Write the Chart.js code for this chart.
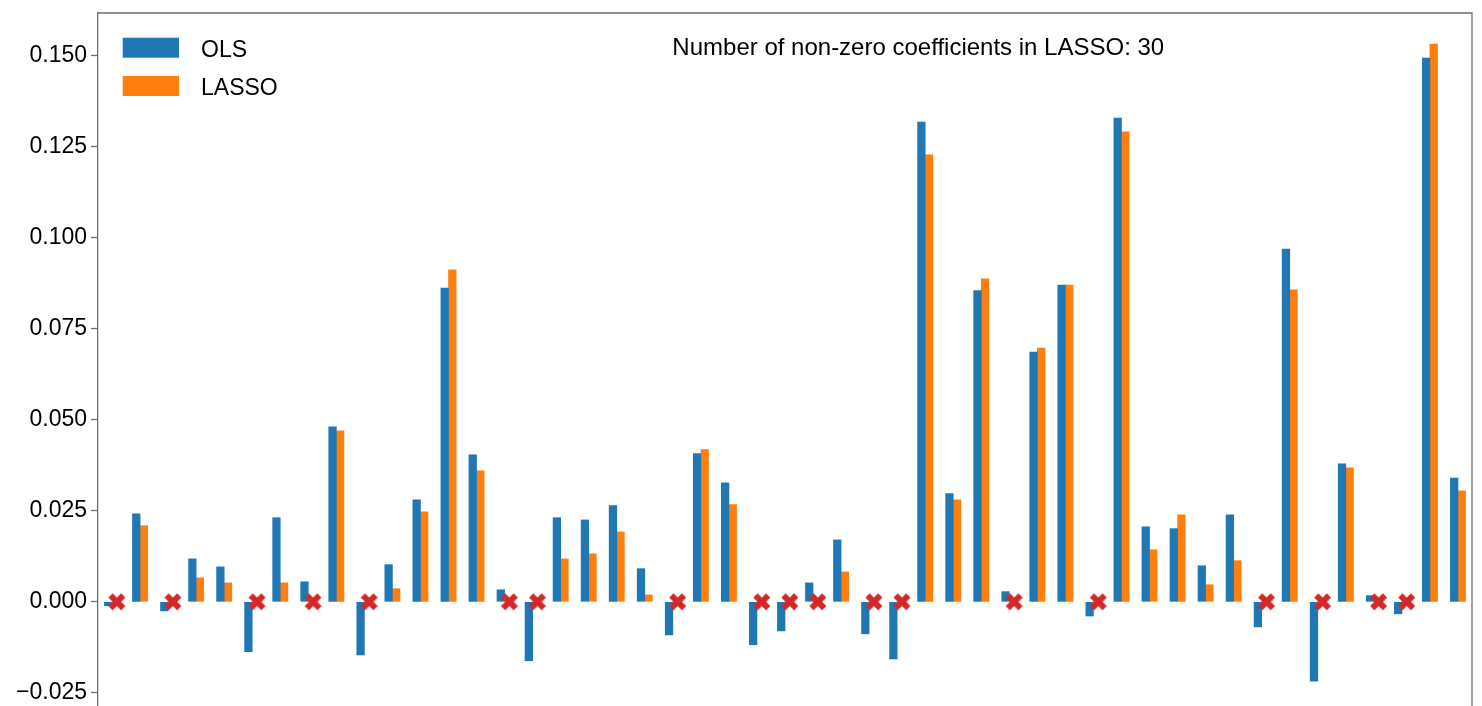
<!DOCTYPE html>
<html>
<head>
<meta charset="utf-8">
<script src="https://cdn.jsdelivr.net/npm/chart.js@4.4.1/dist/chart.umd.min.js"></script>
<style>
  html, body { margin: 0; padding: 0; background: #fff; overflow: hidden; }
</style>
</head>
<body>
<canvas id="coefChart" width="1482" height="706"></canvas>
<script>
var features = [0, 1, 2, 3, 4, 5, 6, 7, 8, 9, 10, 11, 12, 13, 14, 15, 16, 17, 18, 19, 20, 21, 22, 23, 24,
    25, 26, 27, 28, 29, 30, 31, 32, 33, 34, 35, 36, 37, 38, 39, 40, 41, 42, 43, 44, 45, 46, 47, 48]

var olsCoef = [-0.0011, 0.0242, -0.0025, 0.0118, 0.0096, -0.0137, 0.0231, 0.0055, 0.0481, -0.0146,
    0.0102, 0.0280, 0.0862, 0.0404, 0.0033, -0.0162, 0.0231, 0.0225, 0.0264, 0.0091,
    -0.0091, 0.0407, 0.0327, -0.0118, -0.0080, 0.0052, 0.0170, -0.0088, -0.0157, 0.1318,
    0.0297, 0.0855, 0.0028, 0.0686, 0.0870, -0.0039, 0.1329, 0.0206, 0.0201, 0.0099,
    0.0239, -0.0069, 0.0969, -0.0218, 0.0379, 0.0017, -0.0033, 0.1494, 0.0340]

var lassoCoef = [0, 0.0209, 0, 0.0066, 0.0052, 0, 0.0052, 0, 0.0470, 0,
    0.0036, 0.0247, 0.0912, 0.0360, 0, 0, 0.0118, 0.0132, 0.0192, 0.0019,
    0, 0.0418, 0.0267, 0, 0, 0, 0.0082, 0, 0, 0.1228,
    0.0280, 0.0887, 0, 0.0697, 0.0870, 0, 0.1291, 0.0143, 0.0239, 0.0047,
    0.0113, 0, 0.0857, 0, 0.0368, 0, 0, 0.1532, 0.0305]

var yTicks = [-0.025, 0, 0.025, 0.05, 0.075, 0.1, 0.125, 0.15]

var FONT = '"Liberation Sans", Arial, Helvetica, sans-serif'
var spineColor = '#6e6e6e'

// coefficients LASSO set to exactly zero get a red cross on the baseline
var zeroMarks = lassoCoef.map(function (v) { return v === 0 ? 0 : null })
var nonZero = zeroMarks.filter(function (v) { return v === null }).length

// filled "X" (matplotlib 'X' outline), nudged right so it sits over the LASSO slot
function crossMarker(s, shift, color) {
    var c = document.createElement('canvas')
    c.width = 40
    c.height = 20
    var g = c.getContext('2d')
    var pts = [[-1, -3], [-1, -1], [-3, -1], [-3, 1], [-1, 1], [-1, 3], [1, 3], [1, 1], [3, 1], [3, -1], [1, -1], [1, -3]]
    g.beginPath()
    pts.forEach(function (p, k) {
        var x = p[0] * s / 6, y = p[1] * s / 6
        var rx = (x - y) / Math.SQRT2 + 20 + shift, ry = (x + y) / Math.SQRT2 + 10
        if (k === 0) g.moveTo(rx, ry); else g.lineTo(rx, ry)
    })
    g.closePath()
    g.fillStyle = color
    g.fill()
    return c
}

var frame = {
    id: 'frame',
    afterDraw: function (chart) {
        var ctx = chart.ctx, a = chart.chartArea
        ctx.save()
        ctx.strokeStyle = spineColor
        ctx.lineWidth = 1.3
        ctx.beginPath()
        ctx.moveTo(a.left, a.top)
        ctx.lineTo(a.right, a.top)
        ctx.lineTo(a.right, a.bottom)
        ctx.stroke()

        // legend, upper left inside the axes
        ctx.font = '23px ' + FONT
        ctx.textBaseline = 'alphabetic'
        ctx.textAlign = 'left'
        var bars = [chart.data.datasets[1], chart.data.datasets[2]]
        bars.forEach(function (ds, k) {
            var y = 37.7 + k * 38.3
            ctx.fillStyle = ds.backgroundColor
            ctx.fillRect(a.left + 24.7, y, 56.3, 20)
            ctx.fillStyle = '#000'
            ctx.fillText(ds.label, 201, y + 19)
        })

        ctx.font = '24px ' + FONT
        ctx.textAlign = 'center'
        ctx.fillText('Number of non-zero coefficients in LASSO: ' + nonZero,
            a.left + 0.597 * (a.right - a.left), 55)
        ctx.restore()
    }
}

var ctx = document.getElementById('coefChart').getContext('2d')
var coefChart = new Chart(ctx, {
    type: 'bar',
    data: {
        labels: features,
        datasets: [{
            type: 'line',
            label: 'zero',
            data: zeroMarks,
            showLine: false,
            pointStyle: crossMarker(18, 4.8, '#d62728'),
            pointRadius: 9,
            order: -1
        }, {
            label: 'OLS',
            data: olsCoef,
            backgroundColor: '#1f77b4',
            borderWidth: 0,
            barThickness: 7.6
        }, {
            label: 'LASSO',
            data: lassoCoef,
            backgroundColor: '#ff7f0e',
            borderWidth: 0,
            barThickness: 7.6
        }]
    },
    options: {
        responsive: false,
        animation: false,
        events: [],
        layout: {
            autoPadding: false,
            padding: {top: 13, right: 10, bottom: 0, left: 0}
        },
        plugins: {
            legend: {display: false},
            tooltip: {enabled: false}
        },
        scales: {
            x: {
                display: false
            },
            y: {
                min: -0.028626,
                max: 0.161758,
                afterBuildTicks: function (scale) {
                    scale.ticks = yTicks.map(function (v) { return {value: v} })
                },
                afterFit: function (scale) {
                    scale.width = 98
                    scale.paddingTop = 0
                    scale.paddingBottom = 0
                },
                ticks: {
                    padding: 4,
                    color: '#000',
                    font: {family: FONT, size: 23},
                    callback: function (v) {
                        return v.toFixed(3).replace('-', '\u2212')
                    }
                },
                grid: {
                    drawOnChartArea: false,
                    tickLength: 7,
                    tickColor: spineColor,
                    tickWidth: 1.3
                },
                border: {
                    color: spineColor,
                    width: 1.3
                }
            }
        }
    },
    plugins: [frame]
});
</script>
</body>
</html>
